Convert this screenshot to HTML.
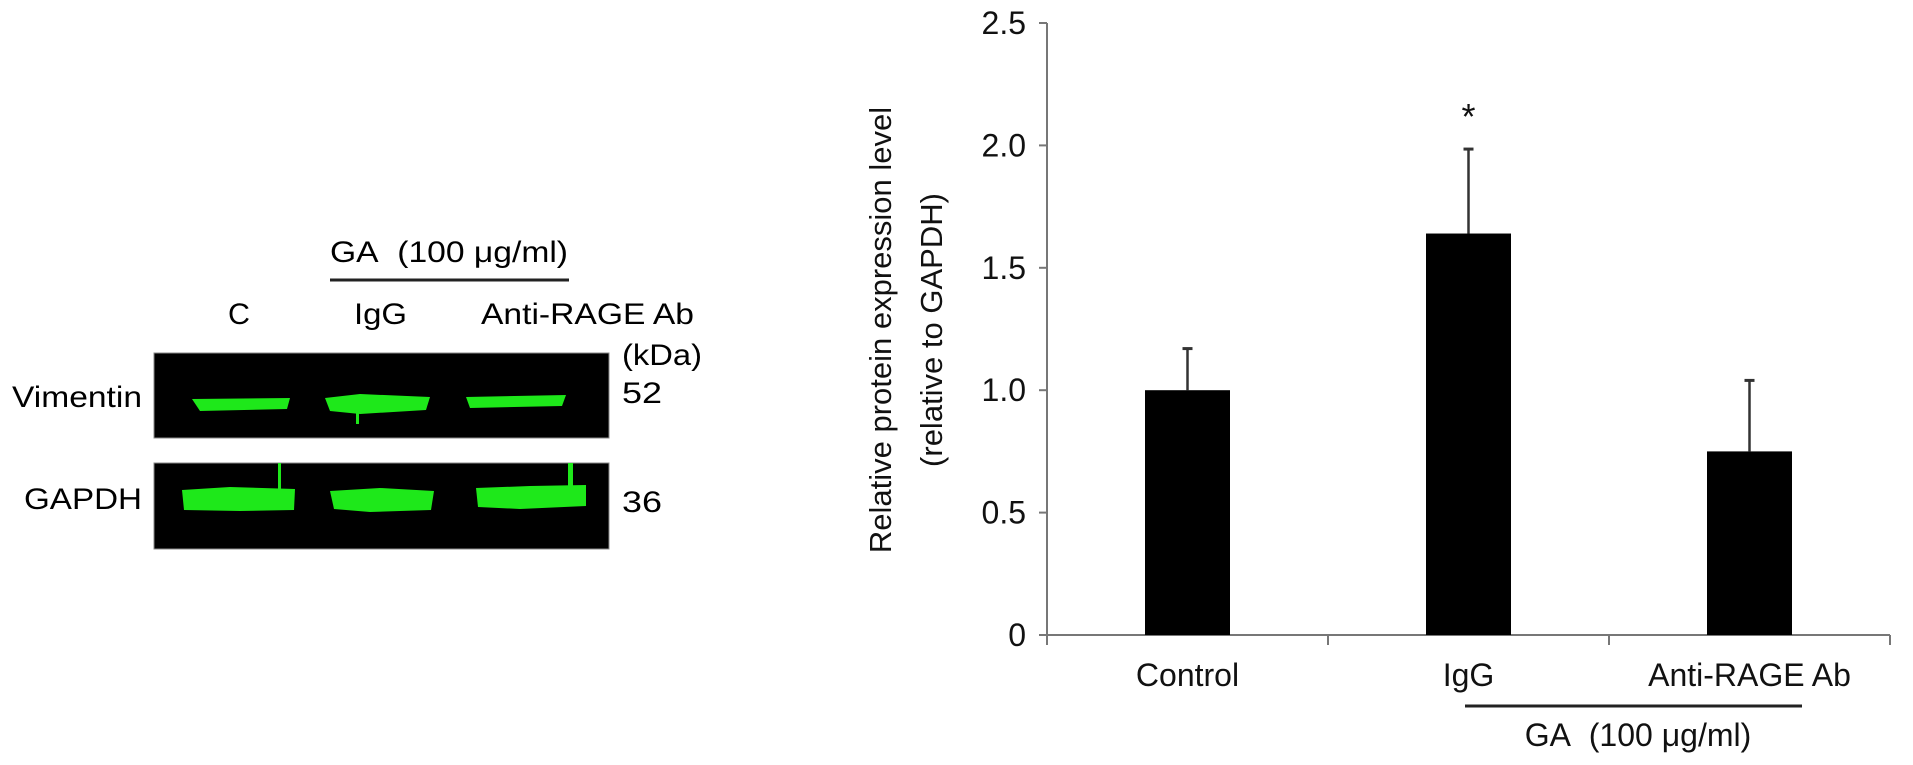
<!DOCTYPE html>
<html><head><meta charset="utf-8"><style>
html,body{margin:0;padding:0;background:#fff;}
svg{display:block;font-family:"Liberation Sans",Arial,sans-serif;}
</style></head><body>
<svg id="fig" width="1913" height="765" viewBox="0 0 1913 765">
  <g>
    <text x="330" y="262" font-size="30" textLength="238" lengthAdjust="spacingAndGlyphs">GA&#160; (100 μg/ml)</text>
    <line x1="330" y1="280" x2="569" y2="280" stroke="#222" stroke-width="3"/>
    <text x="228" y="324" font-size="30" textLength="22" lengthAdjust="spacingAndGlyphs">C</text>
    <text x="354" y="324" font-size="30" textLength="53" lengthAdjust="spacingAndGlyphs">IgG</text>
    <text x="481" y="324" font-size="30" textLength="213" lengthAdjust="spacingAndGlyphs">Anti-RAGE Ab</text>
    <text x="622" y="365" font-size="30" textLength="80" lengthAdjust="spacingAndGlyphs">(kDa)</text>
    <text x="12" y="407" font-size="30" textLength="130" lengthAdjust="spacingAndGlyphs">Vimentin</text>
    <text x="24" y="509" font-size="30" textLength="118" lengthAdjust="spacingAndGlyphs">GAPDH</text>
    <text x="622" y="403" font-size="30" textLength="40" lengthAdjust="spacingAndGlyphs">52</text>
    <text x="622" y="512" font-size="30" textLength="40" lengthAdjust="spacingAndGlyphs">36</text>
    <rect x="154" y="353" width="455" height="85" fill="#000" stroke="#888" stroke-width="1"/>
    <rect x="154" y="463" width="455" height="86" fill="#000" stroke="#888" stroke-width="1"/>
    <g fill="#1ee81a">
      <polygon points="192,399 290,398 287,409 200,411"/>
      <polygon points="325,398 360,394 430,397 426,410 360,414 330,411"/>
      <rect x="356" y="410" width="3" height="14"/>
      <polygon points="466,397 566,395 562,406 470,408"/>
      <polygon points="182,490 230,487 295,489 294,510 240,511 184,510"/>
      <rect x="278" y="463" width="3" height="26"/>
      <polygon points="330,491 380,488 434,491 431,510 370,512 334,509"/>
      <polygon points="476,488 530,486 586,485 586,506 520,509 478,507"/>
      <rect x="568" y="463" width="5" height="26"/>
    </g>
  </g>
  <g id="chart"></g>
</svg>
<script>
const categories = ["Control", "IgG", "Anti-RAGE Ab"];
const means = [1.00, 1.64, 0.75];
const errors = [0.17, 0.345, 0.29];
const yTicks = [0, 0.5, 1.0, 1.5, 2.0, 2.5];
const yTickLabels = ["0", "0.5", "1.0", "1.5", "2.0", "2.5"];
const significance = ["", "*", ""];

const NS = "http://www.w3.org/2000/svg";
const g = document.getElementById("chart");
const X0 = 1047, X1 = 1890, Y0 = 635, Ytop = 23, YMAX = 2.5;
const band = (X1 - X0) / categories.length;
const barW = 85;
function yScale(v){ return Y0 - (v / YMAX) * (Y0 - Ytop); }
function xCenter(i){ return X0 + band * (i + 0.5); }
function mk(tag, attrs, parent){
  const e = document.createElementNS(NS, tag);
  for (const k in attrs) e.setAttribute(k, attrs[k]);
  (parent || g).appendChild(e);
  return e;
}
const AX = "#777";
let e;
e = mk("line", {x1:X0, y1:Ytop, x2:X0, y2:Y0, stroke:AX, "stroke-width":2});


e = mk("line", {x1:X0, y1:Y0, x2:X1, y2:Y0, stroke:AX, "stroke-width":2});


yTicks.forEach((t, i) => {
  const y = yScale(t);
  const tk = mk("line", {x1:X0-8, y1:y, x2:X0, y2:y, stroke:AX, "stroke-width":2});
  
  
  const lb = mk("text", {x:1026, y:y+11, "font-size":32, "text-anchor":"end", fill:"#111"});
  lb.textContent = yTickLabels[i];
  
  
});
for (let i = 0; i <= categories.length; i++) {
  const x = X0 + band * i;
  const tk = mk("line", {x1:x, y1:Y0, x2:x, y2:Y0+10, stroke:AX, "stroke-width":2});
  
  
}
categories.forEach((c, i) => {
  const cx = xCenter(i);
  const top = yScale(means[i]);
  const errTop = yScale(means[i] + errors[i]);
  const eb = mk("line", {x1:cx, y1:top, x2:cx, y2:errTop, stroke:"#333", "stroke-width":2.5});
  
  
  const cap = mk("line", {x1:cx-5, y1:errTop, x2:cx+5, y2:errTop, stroke:"#333", "stroke-width":3});
  
  
  const b = mk("rect", {x:cx-barW/2, y:top, width:barW, height:Y0-top, fill:"#000"});
  
  
  const lb = mk("text", {x:cx, y:686, "font-size":32, "text-anchor":"middle", fill:"#111"});
  lb.textContent = c;
  
  
  if (significance[i]) {
    const s = mk("text", {x:cx, y:errTop - 20, "font-size":36, "text-anchor":"middle", fill:"#111"});
    s.textContent = significance[i];
    
    
  }
});
e = mk("line", {x1:1465, y1:706, x2:1802, y2:706, stroke:"#222", "stroke-width":3});


e = mk("text", {x:1638, y:746, "font-size":32, "text-anchor":"middle", fill:"#111"});
e.textContent = "GA\u00a0\u00a0(100 μg/ml)";


e = mk("text", {x:0, y:0, "font-size":31, "text-anchor":"middle", fill:"#111", transform:"translate(891,330) rotate(-90)"});
e.textContent = "Relative protein expression level";


e = mk("text", {x:0, y:0, "font-size":31, "text-anchor":"middle", fill:"#111", transform:"translate(942,330) rotate(-90)"});
e.textContent = "(relative to GAPDH)";


</script>
</body></html>
